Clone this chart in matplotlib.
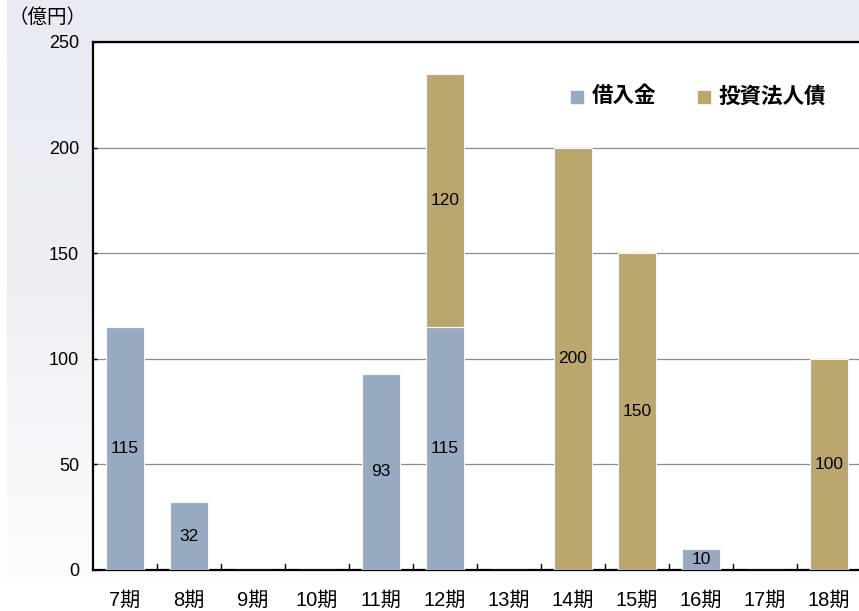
import numpy as np
import matplotlib
matplotlib.use("Agg")
import matplotlib.pyplot as plt
from matplotlib.colors import LinearSegmentedColormap

plt.rcParams['font.family'] = ['Liberation Sans', 'Noto Sans CJK JP', 'DejaVu Sans']

periods = ['7期', '8期', '9期', '10期', '11期', '12期', '13期', '14期', '15期', '16期', '17期', '18期']
loans = [115, 32, 0, 0, 93, 115, 0, 0, 0, 10, 0, 0]
bonds = [0, 0, 0, 0, 0, 120, 0, 200, 150, 0, 0, 100]
yticks = [0, 50, 100, 150, 200, 250]

c_loan = '#98a9c2'
c_bond = '#bba76e'

W, H = 859, 611
fig = plt.figure(figsize=(W / 100, H / 100), dpi=100)

# background panel with vertical gradient
bg = fig.add_axes([0, 0, 1, 1], zorder=-10)
grad = np.linspace(0, 1, 256).reshape(-1, 1)
cmap = LinearSegmentedColormap.from_list('bg', ['#e8ebf2', '#eef0f5', '#fdfdfe'])
bg.imshow(grad, aspect='auto', cmap=cmap, extent=[7, W, 583, 0])
bg.set_xlim(0, W)
bg.set_ylim(H, 0)
bg.axis('off')

ax = fig.add_axes([93 / W, 1 - 570 / H, (861 - 93) / W, (570 - 42) / H])
ax.set_facecolor('white')

x = np.arange(len(periods))
ax.bar(x, loans, width=0.6, color=c_loan, edgecolor='#f4f6f9', linewidth=0.8, zorder=3)
ax.bar(x, bonds, width=0.6, bottom=loans, color=c_bond, edgecolor='#f4f6f9', linewidth=0.8, zorder=3)

for i in range(len(periods)):
    if loans[i] > 0:
        ax.text(x[i], loans[i] / 2, str(loans[i]), ha='center', va='center', fontsize=12.5, zorder=4)
    if bonds[i] > 0:
        ax.text(x[i], loans[i] + bonds[i] / 2, str(bonds[i]), ha='center', va='center', fontsize=12.5, zorder=4)

ax.set_xlim(-0.5, len(periods) - 0.5)
ax.set_ylim(0, 250)
ax.set_yticks(yticks)
ax.set_yticklabels([str(v) for v in yticks], fontsize=13)
ax.tick_params(axis='y', direction='in', length=3, width=1, pad=10)
ax.grid(axis='y', color='#8c8c8c', linewidth=0.9, zorder=1)

ax.set_xticks(x)
ax.set_xticklabels(periods, fontsize=14.5)
ax.tick_params(axis='x', length=0, pad=15)
# boundary tick marks pointing up
for b in np.arange(0.5, len(periods) - 0.5, 1):
    ax.plot([b, b], [0, 3], color='black', linewidth=1, zorder=2)

for s in ['left', 'bottom', 'top']:
    ax.spines[s].set_linewidth(1.6)
    ax.spines[s].set_color('black')
ax.spines['right'].set_visible(False)

# legend
ax.scatter([7.07], [224], marker='s', s=85, color=c_loan, zorder=5)
ax.text(7.3, 224, '借入金', va='center', fontsize=15.5, fontweight='bold')
ax.scatter([9.04], [224], marker='s', s=85, color=c_bond, zorder=5)
ax.text(9.27, 224, '投資法人債', va='center', fontsize=15.5, fontweight='bold')

fig.text(8 / W, 1 - 18 / H, '（億円）', fontsize=14, va='center', ha='left')

fig.savefig('out.png', dpi=100)
